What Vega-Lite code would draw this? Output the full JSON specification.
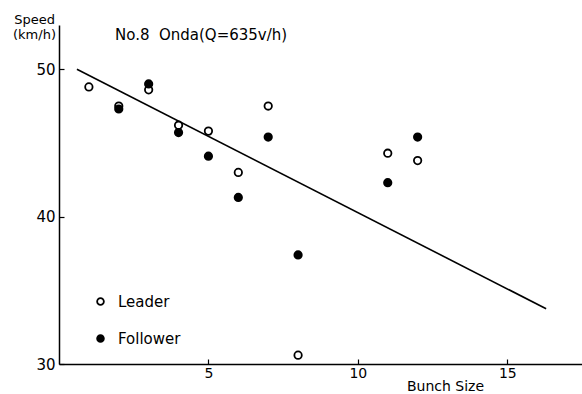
{
  "$schema": "https://vega.github.io/schema/vega-lite/v6.json",
  "width": 523,
  "height": 339,
  "autosize": {"type": "none"},
  "padding": {"left": 59, "top": 25, "right": 0, "bottom": 30},
  "background": "white",
  "config": {
    "view": {"stroke": null},
    "font": "DejaVu Sans",
    "axis": {"grid": false, "domainColor": "black", "domainWidth": 1.5, "tickColor": "black", "tickWidth": 1.2, "labelColor": "black", "titleColor": "black", "labelFont": "DejaVu Sans", "titleFont": "DejaVu Sans", "titleFontWeight": "normal"}
  },
  "title": {"text": "No.8\u00a0\u00a0Onda(Q=635v/h)", "anchor": "start", "frame": "group", "dx": 56, "dy": 34, "fontSize": 15, "fontWeight": "normal", "color": "black", "font": "DejaVu Sans"},
  "datasets": {
    "points": [
      {"bunch": 1, "speed": 48.8, "type": "Leader"},
      {"bunch": 2, "speed": 47.5, "type": "Leader"},
      {"bunch": 3, "speed": 48.6, "type": "Leader"},
      {"bunch": 4, "speed": 46.2, "type": "Leader"},
      {"bunch": 5, "speed": 45.8, "type": "Leader"},
      {"bunch": 6, "speed": 43.0, "type": "Leader"},
      {"bunch": 7, "speed": 47.5, "type": "Leader"},
      {"bunch": 8, "speed": 30.6, "type": "Leader"},
      {"bunch": 11, "speed": 44.3, "type": "Leader"},
      {"bunch": 12, "speed": 43.8, "type": "Leader"},
      {"bunch": 2, "speed": 47.3, "type": "Follower"},
      {"bunch": 3, "speed": 49.0, "type": "Follower"},
      {"bunch": 4, "speed": 45.7, "type": "Follower"},
      {"bunch": 5, "speed": 44.1, "type": "Follower"},
      {"bunch": 6, "speed": 41.3, "type": "Follower"},
      {"bunch": 7, "speed": 45.4, "type": "Follower"},
      {"bunch": 8, "speed": 37.4, "type": "Follower"},
      {"bunch": 11, "speed": 42.3, "type": "Follower"},
      {"bunch": 12, "speed": 45.4, "type": "Follower"}
    ],
    "fit": [
      {"bunch": 0.6, "speed": 50.0},
      {"bunch": 16.3, "speed": 33.75}
    ]
  },
  "layer": [
    {
      "data": {"name": "fit"},
      "mark": {"type": "line", "color": "black", "strokeWidth": 1.6},
      "encoding": {
        "x": {"field": "bunch", "type": "quantitative", "scale": {"domain": [0, 17.5], "nice": false, "zero": false},
          "axis": {"values": [5, 10, 15], "tickSize": -5, "labelPadding": 7, "labelFontSize": 14, "title": "Bunch Size", "titleFontSize": 14, "titleX": 386, "titleY": 22, "titleBaseline": "middle", "titleAlign": "center"}},
        "y": {"field": "speed", "type": "quantitative", "scale": {"domain": [30, 53], "nice": false, "zero": false},
          "axis": {"values": [30, 40, 50], "tickSize": -5, "labelPadding": 9, "labelFontSize": 15, "title": ["Speed", "(km/h)"], "titleFontSize": 13, "titleAngle": 0, "titleX": -25, "titleY": -2, "titleAlign": "center", "titleBaseline": "alphabetic", "titleLineHeight": 15}}
      }
    },
    {
      "data": {"name": "points"},
      "mark": {"type": "point", "shape": "circle", "size": 55, "stroke": "black", "strokeWidth": 1.8, "opacity": 1},
      "encoding": {
        "x": {"field": "bunch", "type": "quantitative"},
        "y": {"field": "speed", "type": "quantitative"},
        "fill": {"field": "type", "type": "nominal", "scale": {"domain": ["Leader", "Follower"], "range": ["white", "black"]},
          "legend": {"title": null, "orient": "none", "legendX": 34, "legendY": 269, "symbolType": "circle", "symbolSize": 45, "symbolStrokeColor": "black", "symbolStrokeWidth": 1.8, "symbolOpacity": 1, "labelFontSize": 15, "labelColor": "black", "labelOffset": 10, "rowPadding": 21}}
      }
    }
  ]
}
